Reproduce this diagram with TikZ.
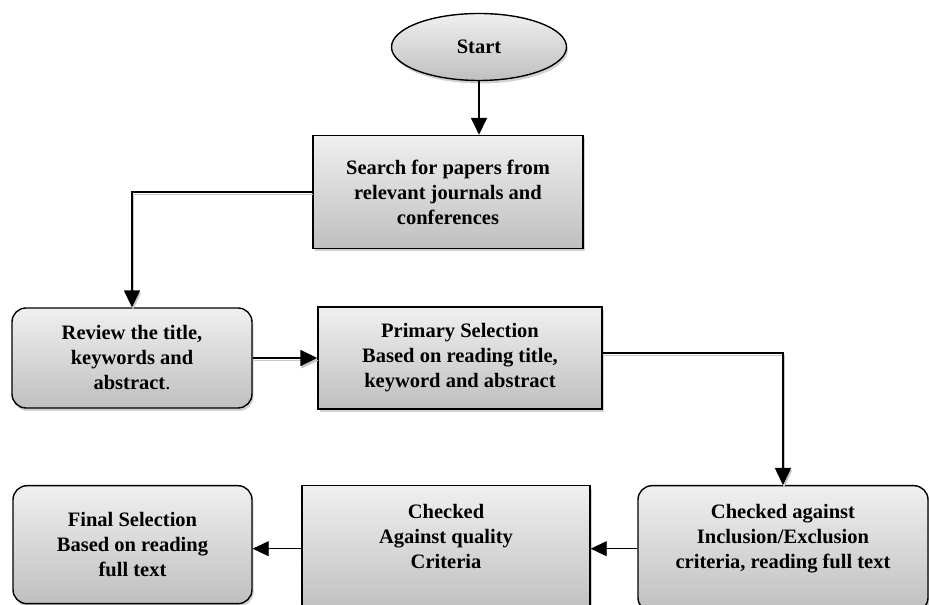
\documentclass[tikz,border=0pt]{standalone}
\usepackage{fontspec}
\setmainfont{Liberation Serif}
\usetikzlibrary{shapes.geometric,arrows.meta,shadows}

\begin{document}
\begin{tikzpicture}
  [x=1pt,y=1pt,
   every node/.style={draw=black,line width=1.4pt,align=center,
     top color=gray!12,bottom color=gray!50,
     font=\fontsize{20.5}{25}\selectfont\bfseries,
     drop shadow={shadow xshift=1.5pt,shadow yshift=-3pt,fill=gray!70}},
   rbox/.style={rectangle,rounded corners=14pt},
   link/.style={line width=1.6pt,-{Triangle[length=17pt,width=16pt]}},
   lineshadow/.style={preaction={draw=gray!45,line width=1.3pt,
     transform canvas={shift={(1pt,-2.5pt)}}}},
   thinlink/.style={line width=0.9pt,-{Triangle[length=16pt,width=15pt]}}]
  \useasboundingbox (0,0) rectangle (929,605);

  \node[ellipse,minimum width=175,minimum height=67] (start) at (479,558) {Start};
  \node[rectangle,minimum width=270,minimum height=113] (search) at (448,413)
    {Search for papers from\\relevant journals and\\conferences};
  \node[rbox,minimum width=240,minimum height=100] (review) at (132,247)
    {Review the title,\\keywords and\\abstract{\mdseries .}};
  \node[rectangle,minimum width=284,minimum height=102] (primary) at (460,247)
    {Primary Selection\\Based on reading title,\\keyword and abstract};
  \node[rbox,anchor=north,minimum width=239,minimum height=118] (final) at (132.5,120)
    {Final Selection\\Based on reading\\full text};
  \node[rectangle,anchor=north,minimum width=288,minimum height=126] (checked) at (446,120)
    {Checked\\Against quality\\Criteria\\\mbox{}};
  \node[rbox,anchor=north,minimum width=290,minimum height=126] (inclusion) at (783,120)
    {Checked against\\Inclusion/Exclusion\\criteria, reading full text\\\mbox{}};

  \draw[link] (start.south) -- (start.south |- search.north);
  \draw[link,lineshadow] (search.west) -| (review.north);
  \draw[link,lineshadow] (review) -- (primary);
  \draw[link,lineshadow] ([yshift=5]primary.east) -| (inclusion.north);
  \draw[thinlink] (inclusion.west) -- (inclusion.west -| checked.east);
  \draw[thinlink] (checked.west) -- (checked.west -| final.east);
\end{tikzpicture}
\end{document}
